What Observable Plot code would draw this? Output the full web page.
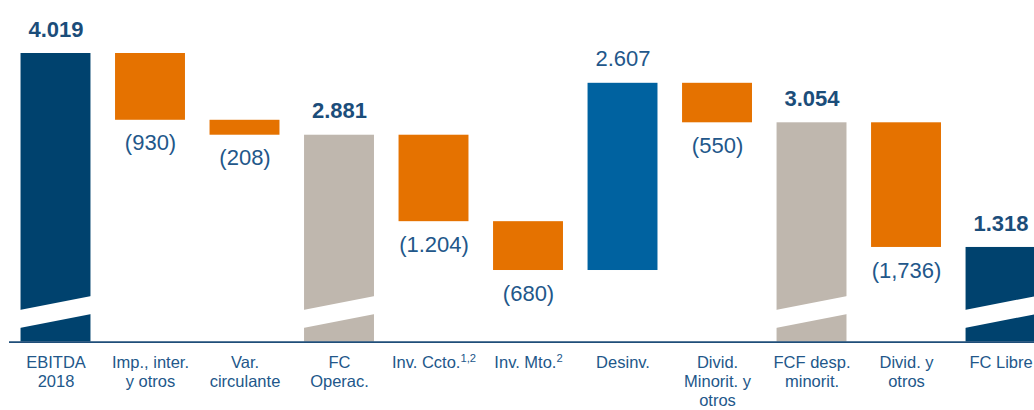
<!DOCTYPE html>
<html>
<head>
<meta charset="utf-8">
<script src="https://cdn.jsdelivr.net/npm/d3@7"></script>
<script src="https://cdn.jsdelivr.net/npm/@observablehq/plot@0.6"></script>
<style>
  html, body { margin: 0; padding: 0; background: #fff; }
  #chart { width: 1034px; height: 410px; overflow: hidden; }
</style>
</head>
<body>
<div id="chart"></div>
<script>
// ---- data ----
const categories = ["EBITDA\n2018", "Imp., inter.\ny otros", "Var.\ncirculante", "FC\nOperac.", "Inv. Ccto.^1,2", "Inv. Mto.^2", "Desinv.", "Divid.\nMinorit. y\notros", "FCF desp.\nminorit.", "Divid. y\notros", "FC Libre"];
const values = [4019, -930, -208, 2881, -1204, -680, 2607, -550, 3054, -1736, 1318];
const kinds = ["total", "neg", "neg", "sub", "neg", "neg", "pos", "neg", "sub", "neg", "total"];
const valueLabels = ["4.019", "(930)", "(208)", "2.881", "(1.204)", "(680)", "2.607", "(550)", "3.054", "(1,736)", "1.318"];
const boldLabels = [true, false, false, true, false, false, false, false, true, false, true];
// axis-break band on the full bars (value units, left edge / right edge)
const breakLow = [190, 385];
const breakHigh = [441, 636];

const colors = {total: "#00426E", neg: "#E57200", sub: "#BFB7AE", pos: "#0062A0"};
const textColor = "#22578A";
const boldColor = "#1B4D7A";

// waterfall table
let running = 0;
const rows = values.map((v, i) => {
  const k = kinds[i];
  let y1, y2;
  if (k === "total" || k === "sub") { y1 = 0; y2 = v; running = v; }
  else { y1 = running; y2 = running + v; running = y2; }
  return {i, cat: categories[i], kind: k, y1, y2, top: Math.max(y1, y2), bottom: Math.min(y1, y2),
          label: valueLabels[i], bold: boldLabels[i]};
});
const hw = 0.37;
const breakRows = rows.filter(d => d.kind === "total" || d.kind === "sub").flatMap(d => [
  {bar: d.i, x: d.i - hw - 0.01, lo: breakLow[0], hi: breakHigh[0]},
  {bar: d.i, x: d.i + hw + 0.01, lo: breakLow[1], hi: breakHigh[1]}
]);
const labelsBold = rows.filter(d => d.kind !== "neg" && d.bold);
const labelsPlainAbove = rows.filter(d => d.kind !== "neg" && !d.bold);
const labelsBelow = rows.filter(d => d.kind === "neg");

const plot = Plot.plot({
  width: 1034,
  height: 410,
  marginLeft: 9,
  marginRight: 0,
  marginTop: 0,
  marginBottom: 0,
  style: {fontFamily: "'Liberation Sans', Arial, sans-serif", background: "#fff"},
  x: {type: "linear", domain: [-0.5, 10.35], range: [8.25, 1033.6], axis: null},
  y: {domain: [0, 4019], range: [341.6, 53], axis: null},
  marks: [
    Plot.rectY(rows, {x1: d => d.i - hw, x2: d => d.i + hw, y1: "y1", y2: "y2", fill: d => colors[d.kind]}),
    Plot.area(breakRows, {x1: "x", y1: "lo", y2: "hi", z: "bar", fill: "white", curve: "linear"}),
    Plot.ruleY([0], {stroke: "#1F4E79", strokeWidth: 1.6}),
    Plot.text(labelsBold, {x: "i", y: "top", text: "label", dy: -24, fontSize: 22, fill: boldColor,
      fontWeight: "bold", lineAnchor: "middle"}),
    Plot.text(labelsPlainAbove, {x: "i", y: "top", text: "label", dy: -24, fontSize: 22, fill: textColor,
      lineAnchor: "middle"}),
    Plot.text(labelsBelow, {x: "i", y: "bottom", text: "label", dy: 23, fontSize: 22, fill: textColor,
      lineAnchor: "middle", ariaLabel: "neglabels"}),
    Plot.text(rows, {x: "i", y: () => 0, text: "cat", dy: 12, fontSize: 16.5, fill: textColor,
      lineAnchor: "top", lineHeight: 1.17, ariaLabel: "catlabels"})
  ]
});
document.getElementById("chart").appendChild(plot);

// fine typography tweaks
d3.select(plot).selectAll("g[aria-label='catlabels'] text").style("letter-spacing", "0.9px");
d3.select(plot).selectAll("g[aria-label='neglabels'] text").style("letter-spacing", "1px");
d3.select(plot).selectAll("text").each(function() {
  const t = this.textContent;
  if (t.includes("^") && this.children.length === 0) {
    const [a, b] = t.split("^");
    this.textContent = "";
    d3.select(this).append("tspan").text(a);
    d3.select(this).append("tspan").attr("dy", "-0.5em").attr("font-size", "0.68em").text(b);
  }
});
</script>
</body>
</html>
